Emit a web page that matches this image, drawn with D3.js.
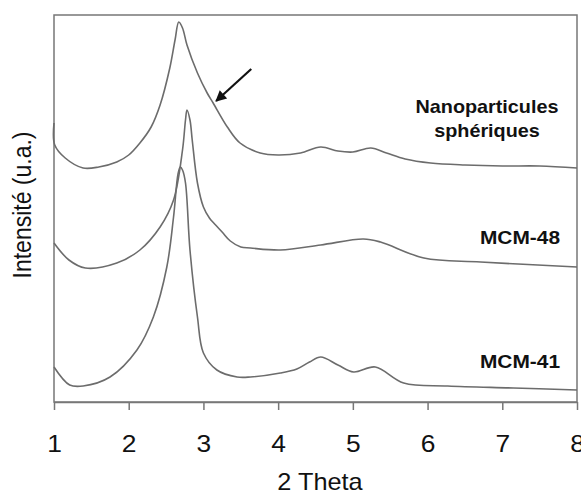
<!DOCTYPE html>
<html>
<head>
<meta charset="utf-8">
<script src="https://d3js.org/d3.v7.min.js"></script>
<style>
  body { margin: 0; background: #fff; }
  text { font-family: Arial, "Liberation Sans", sans-serif; }
</style>
</head>
<body>
<script>
// 2 Theta positions and intensities (arbitrary units, offset curves)
var nanoX = [1.00, 1.01, 1.15, 1.39, 1.6, 1.84, 2.0, 2.15, 2.3, 2.42, 2.55, 2.62, 2.67, 2.72, 2.78, 2.92, 3.05, 3.13, 3.32, 3.49, 3.76, 4.0, 4.3, 4.57, 4.8, 5.0, 5.24, 5.45, 5.7, 6.04, 6.5, 7.0, 7.5, 8.0];
var nanoY = [279, 257, 244, 234, 235, 240, 247, 259, 275, 297, 334, 362, 380, 374, 357, 329, 309, 299, 275, 259, 249, 247, 249, 255, 251, 250, 254, 249, 243, 239, 237, 236, 236, 234];

var mcm48X = [1.00, 1.2, 1.42, 1.84, 2.15, 2.42, 2.60, 2.72, 2.76, 2.78, 2.82, 2.85, 2.92, 3.0, 3.08, 3.15, 3.25, 3.36, 3.5, 3.63, 4.03, 4.57, 5.14, 5.37, 5.95, 6.71, 8.0];
var mcm48Y = [159, 142, 134, 139, 152, 175, 202, 252, 282, 292, 282, 262, 219, 195, 184, 178, 170, 161, 155, 154, 152, 157, 163, 160, 144, 140, 135];

var mcm41X = [1.00, 1.21, 1.39, 1.75, 2.11, 2.33, 2.51, 2.60, 2.66, 2.69, 2.72, 2.76, 2.82, 2.92, 3.0, 3.18, 3.45, 3.63, 4.03, 4.25, 4.42, 4.57, 4.8, 5.01, 5.3, 5.68, 6.27, 7.15, 8.0];
var mcm41Y = [35, 17, 16, 25, 52, 85, 135, 185, 228, 235, 232, 219, 152, 85, 49, 32, 25, 25, 29, 33, 40, 45, 37, 30, 35, 19, 16, 14, 12];

var xTicks = [1, 2, 3, 4, 5, 6, 7, 8];

var w = 581, h = 495;
var margin = { top: 15, right: 4, bottom: 93, left: 54 };
var width = w - margin.left - margin.right;
var height = h - margin.top - margin.bottom;
var stretch = 1.1; // text in the picture is a little wide

var svg = d3.select("body").append("svg")
  .attr("width", w)
  .attr("height", h);

var chart = svg.append("g")
  .attr("transform", "translate(" + margin.left + "," + margin.top + ")");

var x = d3.scaleLinear().domain([1, 8]).range([0, width]);
var y = d3.scaleLinear().domain([0, 387]).range([height, 0]);

// frame
chart.append("rect")
  .attr("width", width)
  .attr("height", height)
  .attr("fill", "none")
  .attr("stroke", "#777")
  .attr("stroke-width", 1.5);

// x axis
var xAxis = chart.append("g")
  .attr("transform", "translate(0," + height + ")")
  .call(d3.axisBottom(x).tickValues(xTicks).tickSize(8).tickSizeOuter(0).tickFormat(d3.format("d")));
xAxis.select(".domain").attr("stroke", "#777").attr("stroke-width", 1.5);
xAxis.selectAll(".tick line").attr("stroke", "#777").attr("stroke-width", 1.5);
xAxis.selectAll(".tick text")
  .attr("y", 50)
  .attr("dy", 0)
  .attr("font-size", 24)
  .attr("font-family", "Arial, 'Liberation Sans', sans-serif")
  .attr("fill", "#111")
  .attr("transform", "scale(" + stretch + ",1)");

// curves
var line = d3.line()
  .x(function(d) { return x(d[0]); })
  .y(function(d) { return y(d[1]); })
  .curve(d3.curveCatmullRom.alpha(0.5));

var series = [
  { name: "nano", xs: nanoX, ys: nanoY },
  { name: "mcm48", xs: mcm48X, ys: mcm48Y },
  { name: "mcm41", xs: mcm41X, ys: mcm41Y }
];

chart.selectAll("path.curve")
  .data(series)
  .enter().append("path")
  .attr("class", "curve")
  .attr("fill", "none")
  .attr("stroke", "#6c6c6c")
  .attr("stroke-width", 1.6)
  .attr("d", function(s) { return line(d3.zip(s.xs, s.ys)); });

// arrow pointing at the shoulder
svg.append("defs").append("marker")
  .attr("id", "head")
  .attr("viewBox", "0 0 10 10")
  .attr("refX", 9)
  .attr("refY", 5)
  .attr("markerWidth", 6)
  .attr("markerHeight", 5)
  .attr("orient", "auto")
  .append("path")
  .attr("d", "M0,0L10,5L0,10Z")
  .attr("fill", "#111");

var arrowFrom = [3.64, 333], arrowTo = [3.17, 301];
chart.append("line")
  .attr("x1", x(arrowFrom[0])).attr("y1", y(arrowFrom[1]))
  .attr("x2", x(arrowTo[0])).attr("y2", y(arrowTo[1]))
  .attr("stroke", "#111")
  .attr("stroke-width", 2.2)
  .attr("marker-end", "url(#head)");

// series labels
var labels = [
  { t: "Nanoparticules", x: 487, y: 113, size: 18 },
  { t: "sphériques", x: 487, y: 137, size: 18 },
  { t: "MCM-48", x: 520, y: 244, size: 19 },
  { t: "MCM-41", x: 520, y: 368, size: 19 }
];
svg.selectAll("text.lab")
  .data(labels)
  .enter().append("text")
  .attr("class", "lab")
  .attr("transform", function(d) { return "translate(" + d.x + "," + d.y + ") scale(" + stretch + ",1)"; })
  .attr("text-anchor", "middle")
  .attr("font-weight", "bold")
  .attr("font-size", function(d) { return d.size; })
  .attr("fill", "#111")
  .text(function(d) { return d.t; });

// axis titles
svg.append("text")
  .attr("transform", "translate(320,490) scale(" + stretch + ",1)")
  .attr("text-anchor", "middle")
  .attr("font-size", 23)
  .attr("fill", "#111")
  .text("2 Theta");

svg.append("text")
  .attr("transform", "translate(31,205) scale(" + stretch + ",1) rotate(-90)")
  .attr("text-anchor", "middle")
  .attr("font-size", 23)
  .attr("fill", "#111")
  .text("Intensité (u.a.)");
</script>
</body>
</html>
